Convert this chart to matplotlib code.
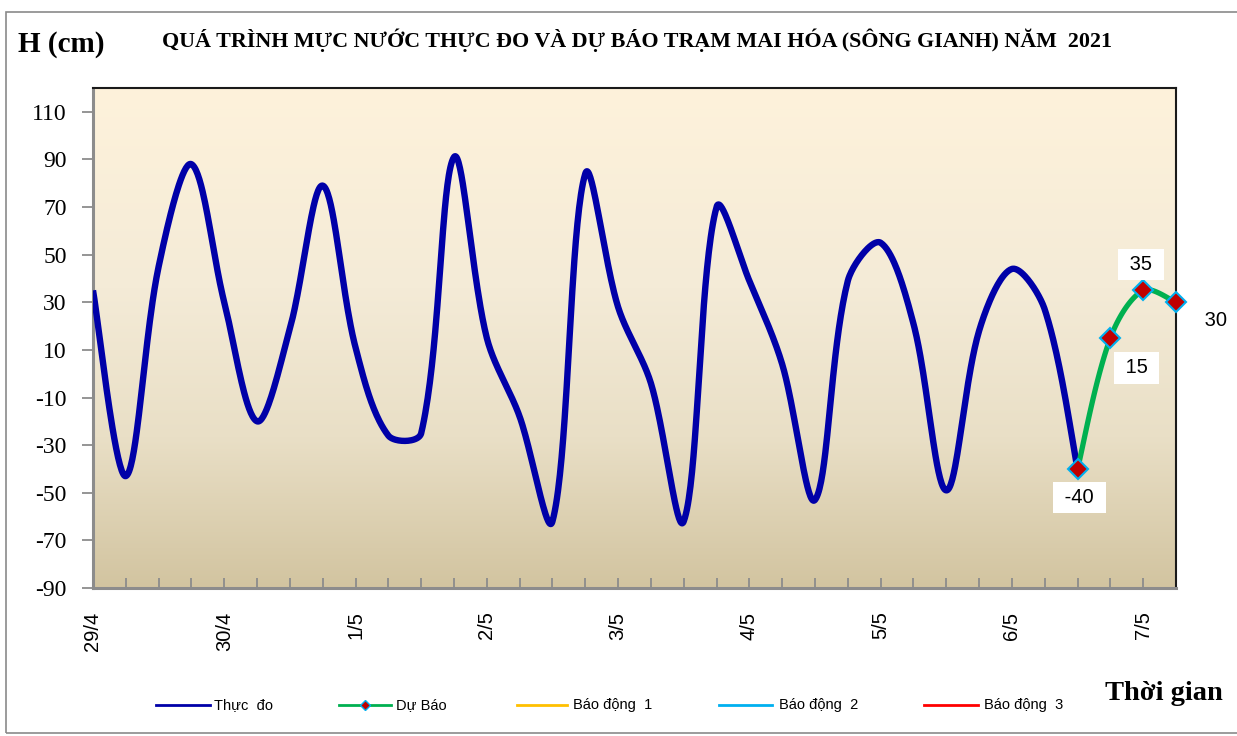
import numpy as np
import matplotlib
matplotlib.use('Agg')
import matplotlib.pyplot as plt
from matplotlib.lines import Line2D
from matplotlib.colors import LinearSegmentedColormap
from matplotlib.patches import Rectangle

# ---------------- data ----------------
day_labels = ['29/4', '30/4', '1/5', '2/5', '3/5', '4/5', '5/5', '6/5', '7/5']
steps_per_day = 4          # observations every 6 hours
observed = [35, -43, 45, 88, 30, -20, 19, 79, 11, -26, -25, 91, 15, -18, -62,
            84, 28, -4, -62, 70, 39, 4, -53, 39, 55, 21, -49, 18, 44, 27, -40]
forecast = [-40, 15, 35, 30]
forecast_start = 30
y_ticks = list(range(-90, 111, 20))
legend_names = ['Thực  đo', 'Dự Báo', 'Báo động  1', 'Báo động  2', 'Báo động  3']
title = 'QUÁ TRÌNH MỰC NƯỚC THỰC ĐO VÀ DỰ BÁO TRẠM MAI HÓA (SÔNG GIANH) NĂM  2021'

W, H = 1237, 736
PX_X = (1176 - 93) / 33.0      # pixels per category (for smoothing in screen space)
PX_Y = 500 / 210.0             # pixels per cm


def smooth(x0, y, n=40):
    """Excel-like smoothed line: cubic Bezier with chord-scaled tangents."""
    P = np.column_stack([(x0 + np.arange(len(y))) * PX_X, np.asarray(y, float) * PX_Y])
    N = len(P)
    L = np.hypot(*np.diff(P, axis=0).T)
    out = []
    for i in range(N - 1):
        d0 = (P[i + 1] - P[i - 1]) if i > 0 else (P[1] - P[0])
        d1 = (P[i + 2] - P[i]) if i + 2 < N else (P[-1] - P[-2])
        f0 = L[i] / (L[i - 1] + L[i]) if i > 0 else 0.5
        f1 = L[i] / (L[i] + L[i + 1]) if i + 2 < N else 0.5
        c1 = P[i] + d0 * f0 / 3
        c2 = P[i + 1] - d1 * f1 / 3
        t = np.linspace(0, 1, n, endpoint=(i == N - 2))[:, None]
        B = ((1 - t)**3) * P[i] + 3 * ((1 - t)**2) * t * c1 + 3 * (1 - t) * t**2 * c2 + t**3 * P[i + 1]
        out.append(B)
    B = np.vstack(out)
    return B[:, 0] / PX_X, B[:, 1] / PX_Y


fig = plt.figure(figsize=(W / 100, H / 100), dpi=100)
ax = fig.add_axes([93 / W, 1 - 588 / H, (1176 - 93) / W, (588 - 88) / H])

# gradient background
cmap = LinearSegmentedColormap.from_list(
    'bg', [(0.0, '#D2C4A0'), (0.3, '#E9DFC6'), (0.6, '#F4EBD7'), (1.0, '#FEF2DB')])
ax.imshow(np.linspace(0, 1, 256).reshape(-1, 1), cmap=cmap, origin='lower',
          extent=[0, 1, 0, 1], transform=ax.transAxes, aspect='auto', zorder=0)

n_cat = forecast_start + len(forecast)
x_fc = forecast_start + np.arange(len(forecast))

sx, sy = smooth(0, observed)
ax.plot(sx, sy, color='#0000A8', lw=4.6, solid_capstyle='butt', zorder=3)
fx, fy = smooth(forecast_start, forecast)
ax.plot(fx, fy, color='#00B050', lw=3.8, solid_capstyle='butt', zorder=4)
ax.plot(x_fc, forecast, ls='none', marker='D', ms=10, mfc='#C00000',
        mec='#00B0F0', mew=1.5, zorder=5, clip_on=False)

offsets = [(2, -29), (26, -30), (-2, 26), (40, -18)]
for x, v, off in zip(x_fc, forecast, offsets):
    ax.annotate(f' {v} ', (x, v), xytext=off, textcoords='offset pixels',
                ha='center', va='center', fontsize=14.5, family='Liberation Sans',
                bbox=dict(boxstyle='square,pad=0.3', fc='white', ec='none'),
                annotation_clip=False, zorder=6)

ax.set_xlim(0, n_cat - 1)
ax.set_ylim(-90, 120)
ax.set_xticks(range(n_cat))
labels = []
for i in range(n_cat):
    labels.append(day_labels[i // steps_per_day] if i % steps_per_day == 0 else '')
ax.set_xticklabels(labels, rotation=90, family='Liberation Sans', fontsize=14.5)
ax.set_yticks(y_ticks)
ax.set_yticklabels([str(v) for v in y_ticks], family='Liberation Serif', fontsize=17)
ax.tick_params(axis='x', direction='in', length=7, width=1.3, color='#8c8c8c', pad=17)
ax.tick_params(axis='y', direction='out', length=8, width=1.3, color='#8c8c8c', pad=11)

for s in ['left', 'bottom']:
    ax.spines[s].set_color('#8c8c8c')
    ax.spines[s].set_linewidth(2.2)
for s in ['top', 'right']:
    ax.spines[s].set_color('#1a1a1a')
    ax.spines[s].set_linewidth(1.5)

# texts
fig.text(18 / W, 1 - 45 / H, 'H (cm)', fontsize=21, weight='bold',
         family='Liberation Serif', ha='left', va='center')
fig.text(637 / W, 1 - 40 / H, title, fontsize=15.8, weight='bold',
         family='Liberation Serif', ha='center', va='center')
fig.text(1105 / W, 1 - 693 / H, 'Thời gian', fontsize=20.5, weight='bold',
         family='Liberation Serif', ha='left', va='center')

# legend (manual layout)
leg_colors = ['#0000A8', '#00B050', '#FFC000', '#00B0F0', '#FF0000']
leg_line = [(156, 210), (339, 391), (517, 567), (719, 772), (924, 978)]
leg_text = [214, 396, 573, 779, 984]
ly = 1 - 705 / H
for name, col, (a, b), tx in zip(legend_names, leg_colors, leg_line, leg_text):
    fig.add_artist(Line2D([a / W, b / W], [ly, ly], transform=fig.transFigure,
                          color=col, lw=2))
    if name == 'Dự Báo':
        fig.add_artist(Line2D([(a + b) / 2 / W], [ly], transform=fig.transFigure,
                              ls='none', marker='D', ms=5, mfc='#C00000',
                              mec='#00B0F0', mew=1))
    fig.text(tx / W, ly, name, fontsize=10.5, family='Liberation Sans',
             ha='left', va='center')

# outer frame
fig.add_artist(Rectangle((6 / W, 3 / H), (1245 - 6) / W, (724 - 3) / H,
                         transform=fig.transFigure, fill=False, ec='#8a8a8a', lw=1.2))

fig.savefig('out.png', dpi=100)
